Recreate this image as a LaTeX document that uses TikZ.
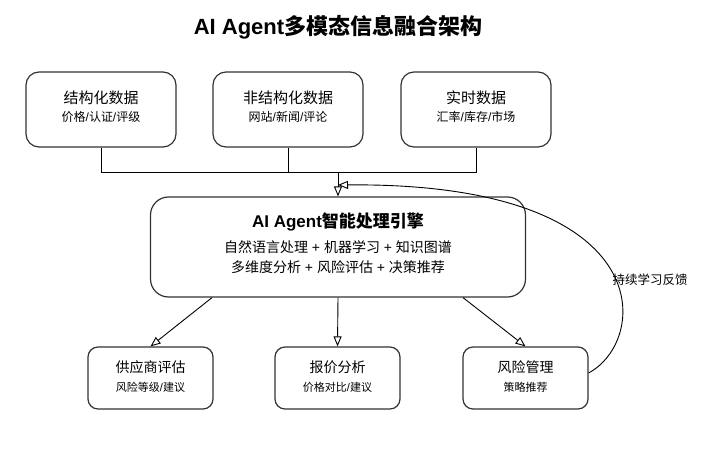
\documentclass[tikz,border=0pt]{standalone}
\usepackage{fontspec}
\setmainfont{Noto Sans CJK SC}
\newfontfamily\lat{Liberation Sans}
\usetikzlibrary{arrows.meta,calc}
\newcommand{\pl}{{\lat{} + }}
\begin{document}
\begin{tikzpicture}[x=1pt,y=-1pt,
  box/.style={draw=black!80,line width=1.2pt,rounded corners=13pt,inner sep=0pt},
  topbox/.style={box,minimum width=150pt,minimum height=75pt},
  mainbox/.style={box,rounded corners=18pt,minimum width=375pt,minimum height=100pt},
  botbox/.style={box,rounded corners=10pt,minimum width=125pt,minimum height=62pt},
  conn/.style={draw=black,line width=0.9pt},
  arr/.style={conn,-{Triangle[open,length=10pt,width=8pt]}},
  ttl/.style={inner sep=0pt,font=\fontsize{15}{18}\selectfont},
  sub/.style={inner sep=0pt,font=\fontsize{12}{14}\selectfont},
  bttl/.style={inner sep=0pt,font=\fontsize{14}{17}\selectfont},
  bsub/.style={inner sep=0pt,font=\fontsize{11}{13}\selectfont},
  mtxt/.style={inner sep=0pt,font=\fontsize{14}{17}\selectfont}]
\useasboundingbox (0,0) rectangle (702,455);

\node[inner sep=0pt,font=\fontsize{22}{26}\selectfont\bfseries] (title) at (338,27) {{\lat AI Agent}多模态信息融合架构};

% top boxes
\node[topbox] (s1) at (101,109.5) {};
\node[topbox] (s2) at (288,109.5) {};
\node[topbox] (s3) at (476,109.5) {};
\node[ttl] (s1t) at (101,98) {结构化数据};
\node[sub] (s1s) at (101,117) {价格{\lat/}认证{\lat/}评级};
\node[ttl] (s2t) at (288,98) {非结构化数据};
\node[sub] (s2s) at (288,117) {网站{\lat/}新闻{\lat/}评论};
\node[ttl] (s3t) at (476,98) {实时数据};
\node[sub] (s3s) at (476,117) {汇率{\lat/}库存{\lat/}市场};

% main box
\node[mainbox] (main) at (338,247) {};
\node[inner sep=0pt,font=\fontsize{17}{20}\selectfont\bfseries] (mt) at (338,222) {{\lat AI Agent}智能处理引擎};
\node[mtxt] (m1) at (338,247) {自然语言处理\pl 机器学习\pl 知识图谱};
\node[mtxt] (m2) at (338,267) {多维度分析\pl 风险评估\pl 决策推荐};

% bottom boxes
\node[botbox] (b1) at (150.5,378) {};
\node[botbox] (b2) at (337.5,378) {};
\node[botbox] (b3) at (525.5,378) {};
\node[bttl] (b1t) at (150.5,367) {供应商评估};
\node[bsub] (b1s) at (150.5,387) {风险等级{\lat/}建议};
\node[bttl] (b2t) at (337.5,367) {报价分析};
\node[bsub] (b2s) at (337.5,387) {价格对比{\lat/}建议};
\node[bttl] (b3t) at (525.5,367) {风险管理};
\node[bsub] (b3s) at (525.5,387) {策略推荐};

% connectors top
\coordinate (j) at (338,172);
\draw[conn] (s1.south) |- (j);
\draw[conn] (s2.south) |- (j);
\draw[conn] (s3.south) |- (j);
\draw[arr] (j) -- (main.north);

% connectors bottom
\draw[arr] ([xshift=-126pt]main.south) -- (b1.north);
\draw[arr] (main.south) -- (b2.north);
\draw[arr] ([xshift=125pt]main.south) -- (b3.north);

% feedback
\coordinate (fb) at (338,185);
\draw[arr] ([yshift=5pt]b3.east) .. controls (650,340) and (660,182) .. (fb);
\node[inner sep=0pt,font=\fontsize{12.5}{15}\selectfont] (fbl) at (650,280) {持续学习反馈};
\end{tikzpicture}
\end{document}
